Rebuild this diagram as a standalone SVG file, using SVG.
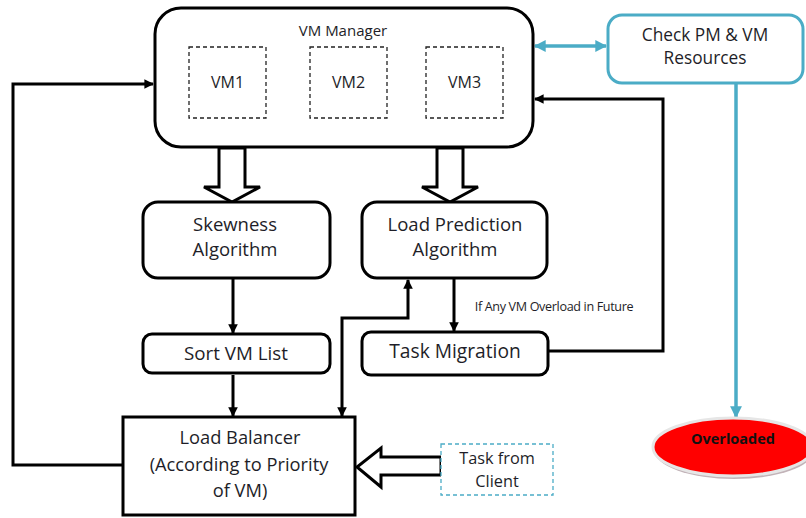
<svg xmlns="http://www.w3.org/2000/svg" width="806" height="518" viewBox="0 0 806 518">
<style>
.t{font-family:"Open Sans","Liberation Sans",sans-serif;fill:#1e1e28;text-anchor:middle}
.box{fill:#fff;stroke:#000;stroke-width:3}
.vm{fill:#fff;stroke:#222;stroke-width:1.3;stroke-dasharray:4,3}
.ln{fill:none;stroke:#000;stroke-width:3}
.tl{fill:none;stroke:#4bacc6;stroke-width:3.5}
.hollow{fill:#fff;stroke:#000;stroke-width:3;stroke-linejoin:miter}
</style>
<defs>
<marker id="ab" viewBox="0 0 10 10" refX="9" refY="5" markerWidth="3.2" markerHeight="3.2" orient="auto-start-reverse" markerUnits="strokeWidth">
<path d="M0,0 L10,5 L0,10 Z" fill="#000"/>
</marker>
<marker id="at" viewBox="0 0 10 10" refX="9" refY="5" markerWidth="3.4" markerHeight="3.4" orient="auto-start-reverse" markerUnits="strokeWidth">
<path d="M0,0 L10,5 L0,10 Z" fill="#4bacc6"/>
</marker>
</defs>

<g id="connectors">
<polyline class="ln" points="122,465 13,465 13,84 153,84" marker-end="url(#ab)"/>
<polyline class="ln" points="549,351 663,351 663,99 535,99" marker-end="url(#ab)"/>
<line class="ln" x1="233" y1="278" x2="233" y2="333" marker-end="url(#ab)"/>
<line class="ln" x1="233" y1="375" x2="233" y2="416" marker-end="url(#ab)"/>
<line class="ln" x1="454" y1="278" x2="454" y2="331" marker-end="url(#ab)"/>
<polyline class="ln" points="342,416 342,318 408,318 408,280" marker-start="url(#ab)" marker-end="url(#ab)"/>
<line class="tl" x1="535" y1="46" x2="606" y2="46" marker-start="url(#at)" marker-end="url(#at)"/>
<line class="tl" x1="736" y1="83" x2="736" y2="417" marker-end="url(#at)"/>
<polygon class="hollow" points="219,148 245,148 245,187 260,187 232,202 204,187 219,187"/>
<polygon class="hollow" points="437,148 463,148 463,187 478,187 450,202 422,187 437,187"/>
<polygon class="hollow" points="441,457 381,457 381,448 357,467 381,487 381,475 441,475"/>
</g>

<g id="vm-manager">
<rect class="box" x="155" y="8" width="378" height="139" rx="26"/>
<text class="t" x="343" y="36" font-size="15">VM Manager</text>
</g>
<g id="vm1">
<rect class="vm" x="189" y="47" width="77" height="71"/>
<text class="t" x="227.5" y="88" font-size="16">VM1</text>
</g>
<g id="vm2">
<rect class="vm" x="310" y="47" width="77" height="71"/>
<text class="t" x="348.5" y="88" font-size="16">VM2</text>
</g>
<g id="vm3">
<rect class="vm" x="426" y="47" width="77" height="71"/>
<text class="t" x="464.5" y="88" font-size="16">VM3</text>
</g>

<g id="check-resources">
<rect x="608" y="15" width="195" height="68" rx="14" fill="#fff" stroke="#4bacc6" stroke-width="3"/>
<text class="t" x="705" y="41" font-size="17.3">Check PM &amp; VM</text>
<text class="t" x="705" y="64" font-size="17.3">Resources</text>
</g>

<g id="skewness">
<rect class="box" x="143" y="202" width="187" height="76" rx="15"/>
<text class="t" x="235" y="231" font-size="18.5">Skewness</text>
<text class="t" x="235" y="256" font-size="18.5">Algorithm</text>
</g>

<g id="load-prediction">
<rect class="box" x="362" y="202" width="185" height="76" rx="15"/>
<text class="t" x="455" y="231" font-size="18.5">Load Prediction</text>
<text class="t" x="455" y="256" font-size="18.5">Algorithm</text>
</g>

<g id="sort-vm-list">
<rect class="box" x="143" y="334" width="187" height="39" rx="9"/>
<text class="t" x="236" y="360" font-size="18.8">Sort VM List</text>
</g>

<g id="task-migration">
<rect class="box" x="362" y="332" width="186" height="43" rx="9"/>
<text class="t" x="455" y="358" font-size="19.2">Task Migration</text>
</g>

<text class="t" x="554" y="311" font-size="12.6" letter-spacing="-0.35">If Any VM Overload in Future</text>

<g id="load-balancer">
<rect class="box" x="123" y="417" width="232" height="98"/>
<text class="t" x="240" y="444" font-size="18.3">Load Balancer</text>
<text class="t" x="239" y="471" font-size="18.3">(According to Priority</text>
<text class="t" x="240" y="497" font-size="18.3">of VM)</text>
</g>

<g id="task-from-client">
<rect x="441" y="444" width="112" height="51" fill="#fff" stroke="#4bacc6" stroke-width="1.3" stroke-dasharray="4,3"/>
<text class="t" x="497" y="464" font-size="16.3">Task from</text>
<text class="t" x="497" y="487" font-size="16.3">Client</text>
</g>

<g id="overloaded">
<ellipse cx="734" cy="450" rx="80" ry="29" fill="#9a8088" opacity="0.6"/>
<ellipse cx="733" cy="447" rx="80" ry="29" fill="#ff0000" stroke="#e6e6e6" stroke-width="3"/>
<text x="733" y="444" font-size="14.5" font-weight="bold" text-anchor="middle" font-family="'Open Sans','Liberation Sans',sans-serif" fill="#111">Overloaded</text>
</g>
</svg>
